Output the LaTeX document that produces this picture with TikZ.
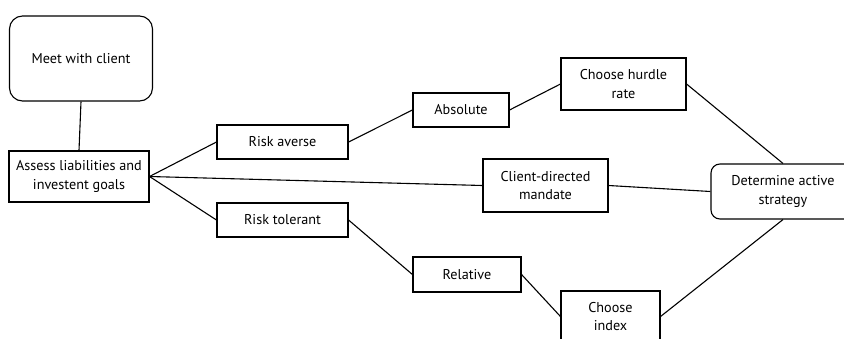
\documentclass[tikz,border=0pt]{standalone}
\usepackage{fontspec}
\setmainfont{PT Sans}
\begin{document}
\begin{tikzpicture}[x=1pt,y=-1pt,
  every node/.style={font=\fontsize{14.2}{18.3}\selectfont, align=center, inner sep=0pt},
  box/.style={draw, line width=1.1pt, rectangle},
  rbox/.style={box, rounded corners=9pt},
  link/.style={line width=1.1pt}]
\useasboundingbox (0,0) rectangle (844,338);
\clip (0,0) rectangle (844,338);
\fill[white] (0,0) rectangle (844,338);

% steps of the process
\node[rbox, rounded corners=13pt, minimum width=143pt, minimum height=85pt] (meet) at (81,58.5) {Meet with client};
\node[box, minimum width=140pt, minimum height=51pt] (assess) at (79,176.5) {Assess liabilities and\\investent goals};
\node[box, minimum width=131pt, minimum height=34pt] (averse) at (282.5,142) {Risk averse};
\node[box, minimum width=131pt, minimum height=34pt] (tolerant) at (282.5,220) {Risk tolerant};
\node[box, minimum width=96pt, minimum height=34pt] (absolute) at (461,110) {Absolute};
\node[box, minimum width=108pt, minimum height=35pt] (relative) at (467,274.5) {Relative};
\node[box, minimum width=125pt, minimum height=52pt] (hurdle) at (623.5,84) {Choose hurdle\\rate};
\node[box, minimum width=125pt, minimum height=53pt] (mandate) at (545.5,185.5) {Client-directed\\mandate};
\node[box, minimum width=99pt, minimum height=51pt] (index) at (610.5,316.5) {Choose\\index};
\node[rbox, minimum width=144pt, minimum height=55pt] (strategy) at (783,191.5) {Determine active\\strategy};

% connections between steps
\draw[link] (meet.south) -- (assess.north);
\draw[link] (assess.east) -- (averse.west);
\draw[link] (assess.east) -- (mandate.west);
\draw[link] (assess.east) -- (tolerant.west);
\draw[link] (averse.east) -- (absolute.west);
\draw[link] (absolute.east) -- (hurdle.west);
\draw[link] (tolerant.east) -- (relative.west);
\draw[link] (relative.east) -- (index.west);
\draw[link] (hurdle.east) -- (strategy.north);
\draw[link] (mandate.east) -- (strategy.west);
\draw[link] (index.east) -- (strategy.south);
\end{tikzpicture}
\end{document}
